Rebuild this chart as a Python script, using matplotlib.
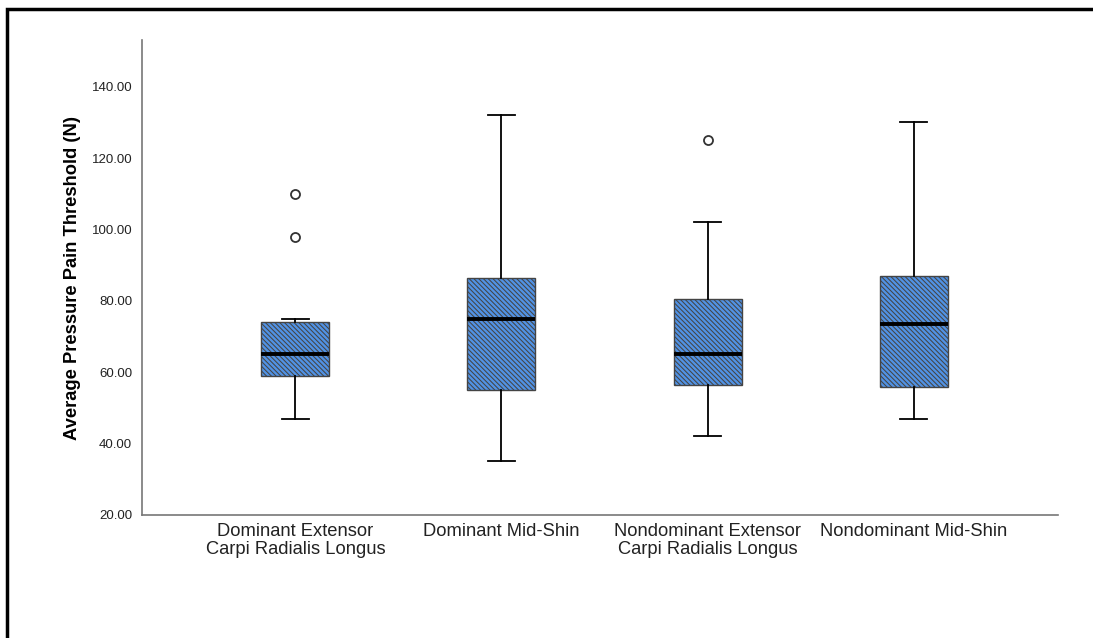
import matplotlib.pyplot as plt
from matplotlib.patches import Rectangle

plt.rcParams['font.family'] = ['Liberation Sans', 'DejaVu Sans']
plt.rcParams['hatch.color'] = '#1c2a40'
plt.rcParams['hatch.linewidth'] = 0.75

# box statistics
labels = ['Dominant Extensor\nCarpi Radialis Longus', 'Dominant Mid-Shin',
          'Nondominant Extensor\nCarpi Radialis Longus', 'Nondominant Mid-Shin']
whislo = [47, 35, 42, 47]
q1 = [59, 55, 56.5, 56]
med = [65, 75, 65, 73.5]
q3 = [74, 86.5, 80.5, 87]
whishi = [75, 132, 102, 130]
fliers = [[110, 98], [], [125], []]

stats = []
for i in range(len(labels)):
    stats.append(dict(label=labels[i], whislo=whislo[i], q1=q1[i], med=med[i],
                      q3=q3[i], whishi=whishi[i], fliers=fliers[i]))

fig = plt.figure(figsize=(10.93, 6.38), dpi=100)
ax = fig.add_axes([0.1299, 0.1928, 0.838, 0.744])

ax.bxp(stats, positions=[1, 2, 3, 4], widths=0.33, patch_artist=True,
       showfliers=True,
       boxprops=dict(facecolor='#5192e4', edgecolor='#444444', linewidth=1.0, hatch='\\' * 7),
       medianprops=dict(color='black', linewidth=2.8),
       whiskerprops=dict(color='black', linewidth=1.3),
       capprops=dict(color='black', linewidth=1.3),
       capwidths=0.13,
       flierprops=dict(marker='o', markerfacecolor='white', markeredgecolor='#333333',
                       markersize=6.5, markeredgewidth=1.3))

ax.set_xlim(0.256, 4.70)
ax.set_ylim(20, 153)
ax.set_yticks([20, 40, 60, 80, 100, 120, 140])
ax.set_yticklabels(['%.2f' % v for v in [20, 40, 60, 80, 100, 120, 140]])
ax.tick_params(axis='y', length=0, labelsize=9.5, pad=7, colors='#222222')
ax.tick_params(axis='x', length=0, labelsize=13.2, pad=6, colors='#222222')
for lab in ax.get_xticklabels():
    lab.set_linespacing(1.05)
ax.set_ylabel('Average Pressure Pain Threshold (N)', fontsize=13.2, fontweight='bold', labelpad=8)

for s in ['top', 'right']:
    ax.spines[s].set_visible(False)
for s in ['left', 'bottom']:
    ax.spines[s].set_color('#777777')
    ax.spines[s].set_linewidth(1.2)

# outer frame of the exported chart (only top and left edges show)
fig.patches.append(Rectangle((0.006, -0.05), 1.1, 1.036, transform=fig.transFigure,
                             fill=False, edgecolor='black', linewidth=2.5))

fig.savefig('out.png', dpi=100)
